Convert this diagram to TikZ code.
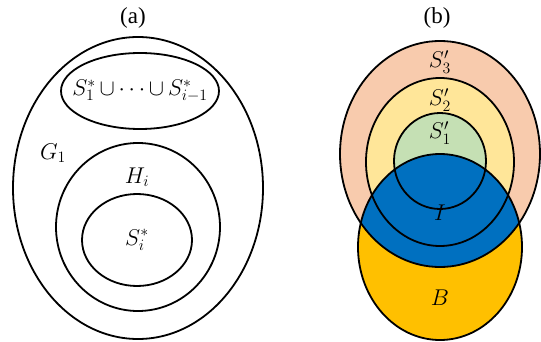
\documentclass[tikz,border=0pt]{standalone}
\usepackage[no-math]{fontspec}
\setmainfont{Liberation Serif}
\usepackage{xcolor}
\usepackage{tikz}
\usetikzlibrary{positioning}
\definecolor{peach}{RGB}{248,203,173}
\definecolor{pale}{RGB}{255,230,153}
\definecolor{sage}{RGB}{197,224,180}
\definecolor{deepblue}{RGB}{0,112,192}
\definecolor{amber}{RGB}{255,192,0}
\tikzset{
    ring/.style={draw, line width=1.8pt},
    lbl/.style={font=\fontsize{20.74}{25}\selectfont, inner sep=0pt, scale=1.1},
    panel/.style={font=\fontsize{23}{26}\selectfont, inner sep=0pt}
}

\begin{document}
\begin{tikzpicture}[x=1pt, y=-1pt]
    \useasboundingbox (0,0) rectangle (541,342);
    % (a)
    \node (capa) [panel] at (133,18) {(a)};
    \draw [ring] (138,188) ellipse [x radius=125, y radius=151];
    \draw [ring] (140,91) ellipse [x radius=79, y radius=38];
    \draw [ring] (138,227) ellipse [x radius=82, y radius=84];
    \draw [ring] (137,240) ellipse [x radius=55, y radius=46];
    \node (prev) [lbl] at (140,91) {\medmuskip=3mu $S_1^*\cup\cdots\cup S_{i-1}^*$};
    \node (g1) [lbl] at (53,153) {$G_1$};
    \node (hi) [lbl] at (137,177) {$H_i$};
    \node (si) [lbl] at (137,240) {$S_i^*$};
    % (b)
    \node (capb) [panel] at (437,18) {(b)};
    \fill [peach] (440,154) ellipse [x radius=100, y radius=113];
    \fill [pale] (440,162) ellipse [x radius=74, y radius=84];
    \fill [sage] (440,161) ellipse [x radius=46, y radius=48];
    \fill [amber] (440,247) ellipse [x radius=82, y radius=93];
    \begin{scope}
        \clip (440,154) ellipse [x radius=100, y radius=113];
        \fill [deepblue] (440,247) ellipse [x radius=82, y radius=93];
    \end{scope}
    \draw [ring] (440,154) ellipse [x radius=100, y radius=113];
    \draw [ring] (440,162) ellipse [x radius=74, y radius=84];
    \draw [ring] (440,161) ellipse [x radius=46, y radius=48];
    \draw [ring] (440,247) ellipse [x radius=82, y radius=93];
    \node (s3) [lbl] at (440,62) {$S_3'$};
    \node (s2) [lbl] at (440,100) {$S_2'$};
    \node (s1) [lbl] at (440,133) {$S_1'$};
    \node (inter) [lbl] at (440,213) {$I$};
    \node (b) [lbl] at (440,298) {$B$};
\end{tikzpicture}
\end{document}
